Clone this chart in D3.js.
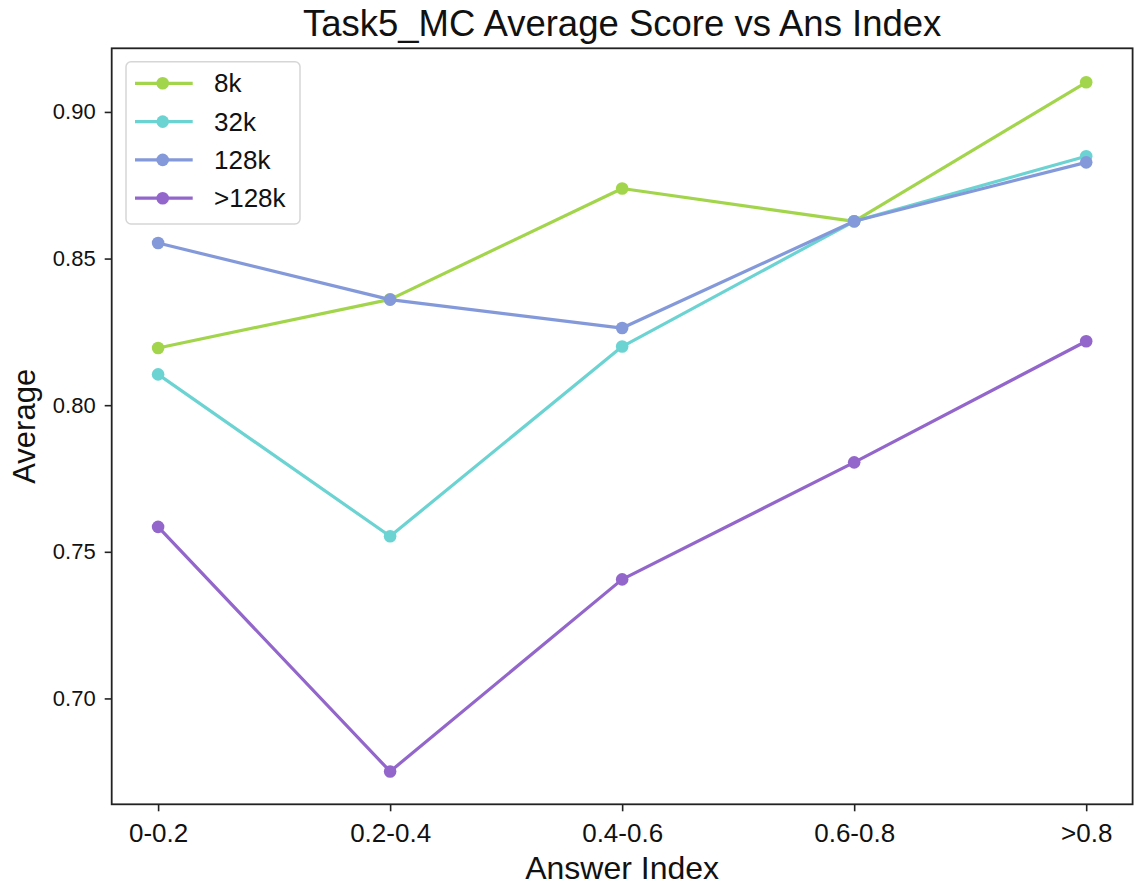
<!DOCTYPE html>
<html><head><meta charset="utf-8">
<script src="https://cdn.jsdelivr.net/npm/d3@7"></script>
<style>body{margin:0;background:#fff;} svg{display:block;font-family:"Liberation Sans",Arial,sans-serif;}</style>
</head><body>
<script>
const categories = ["0-0.2","0.2-0.4","0.4-0.6","0.6-0.8",">0.8"];
const seriesNames = ["8k","32k","128k",">128k"];
const colors = ["#A2D54B","#6CD3D3","#8499DA","#9366CB"];
const vals8k   = [0.8195, 0.8361, 0.8739, 0.8627, 0.9101];
const vals32k  = [0.8105, 0.7553, 0.8200, 0.8627, 0.8849];
const vals128k = [0.8553, 0.8360, 0.8263, 0.8627, 0.8828];
const vals128p = [0.7585, 0.6751, 0.7406, 0.7805, 0.8218];
const yTicks = [0.70, 0.75, 0.80, 0.85, 0.90];
const title = "Task5_MC Average Score vs Ans Index";
const xLabel = "Answer Index";
const yLabel = "Average";

const series = [vals8k, vals32k, vals128k, vals128p];
const W = 1135, H = 888;
const L = 111.7, R = 1132.6, T = 48.3, B = 804.3;

const svg = d3.select("body").append("svg").attr("width", W).attr("height", H);

const x = d3.scaleLinear().domain([-0.2, 4.2]).range([L, R]);
const y = d3.scaleLinear().domain([0.6639, 0.9217]).range([B, T]);

// lines
const line = d3.line().x((d,i)=>x(i)).y(d=>y(d));
series.forEach((s,k)=>{
  const g = svg.append("g");
  g.append("path").datum(s).attr("d", line).attr("fill","none")
    .attr("stroke", colors[k]).attr("stroke-width", 3.2).attr("stroke-linejoin","round");
  g.selectAll("circle").data(s).enter().append("circle")
    .attr("cx",(d,i)=>x(i)).attr("cy",d=>y(d)).attr("r",6.3).attr("fill",colors[k]);
});

// axes
const xAxis = d3.axisBottom(x).tickValues(d3.range(categories.length))
  .tickFormat(i=>categories[i]).tickSize(7).tickPadding(12);
const yAxis = d3.axisLeft(y).tickValues(yTicks).tickFormat(d3.format(".2f")).tickSize(7).tickPadding(9);
const gx = svg.append("g").attr("transform",`translate(0,${B})`).call(xAxis);
const gy = svg.append("g").attr("transform",`translate(${L},0)`).call(yAxis);
[gx,gy].forEach(g=>{
  g.select(".domain").remove();
  g.selectAll(".tick line").attr("stroke","#222").attr("stroke-width",1.6);
  g.selectAll(".tick text").attr("fill","#111");
});
gx.selectAll(".tick text").style("font-size","26px");
gy.selectAll(".tick text").style("font-size","22px");
// frame
svg.append("rect").attr("x",L).attr("y",T).attr("width",R-L).attr("height",B-T)
  .attr("fill","none").attr("stroke","#222").attr("stroke-width",1.8);

// titles
svg.append("text").attr("x",(L+R)/2).attr("y",36).attr("text-anchor","middle")
  .style("font-size","36.5px").attr("fill","#111").text(title);
svg.append("text").attr("x",(L+R)/2).attr("y",879).attr("text-anchor","middle")
  .style("font-size","32px").attr("fill","#111").text(xLabel);
svg.append("text").attr("transform",`translate(35,${(T+B)/2}) rotate(-90)`).attr("text-anchor","middle")
  .style("font-size","31px").attr("fill","#111").text(yLabel);

// legend
const lg = svg.append("g");
lg.append("rect").attr("x",126).attr("y",61.7).attr("width",174).attr("height",162.3)
  .attr("rx",5).attr("fill","#fff").attr("fill-opacity",0.8).attr("stroke","#d6d6d6").attr("stroke-width",1.5);
seriesNames.forEach((n,k)=>{
  const yy = 83.3 + k*38.3;
  lg.append("line").attr("x1",135).attr("x2",192.7).attr("y1",yy).attr("y2",yy)
    .attr("stroke",colors[k]).attr("stroke-width",3.2);
  lg.append("circle").attr("cx",162.7).attr("cy",yy).attr("r",6.3).attr("fill",colors[k]);
  lg.append("text").attr("x",214).attr("y",yy).attr("dy","0.35em")
    .style("font-size","26px").attr("fill","#111").text(n);
});
</script>
</body></html>
